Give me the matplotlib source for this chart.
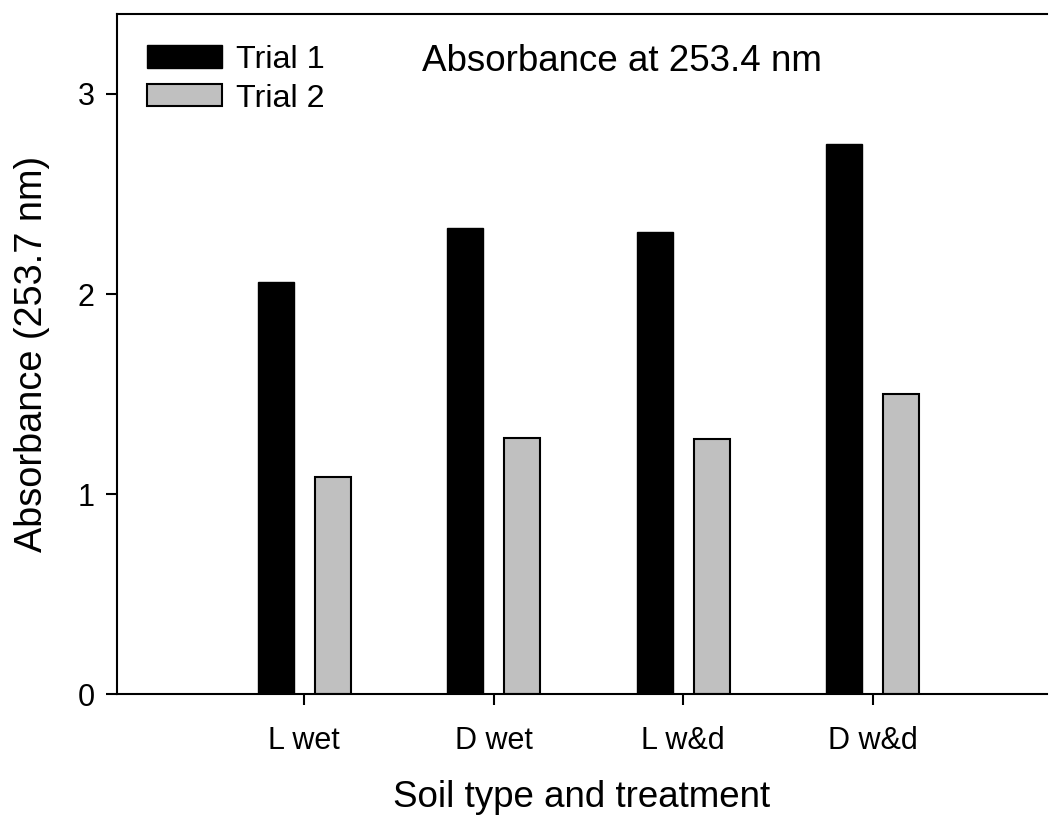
import matplotlib
matplotlib.use("Agg")
import matplotlib.pyplot as plt
import numpy as np

plt.rcParams['font.family'] = ['Liberation Sans', 'DejaVu Sans']

# Soil absorbance readings per treatment
categories = ["L wet", "D wet", "L w&d", "D w&d"]
trial1 = [2.06, 2.33, 2.31, 2.75]
trial2 = [1.085, 1.28, 1.275, 1.50]
series_names = ["Trial 1", "Trial 2"]
yticks = [0, 1, 2, 3]

fig = plt.figure(figsize=(10.5, 8.18), dpi=100)
ax = fig.add_axes([117 / 1050, 124 / 818, 930 / 1050, 680 / 818])

x = np.arange(len(categories))
width = 0.19
offset = 0.15
ax.bar(x - offset, trial1, width, color="black", edgecolor="black",
       linewidth=1.0, label=series_names[0])
ax.bar(x + offset, trial2, width, color="#c0c0c0", edgecolor="black",
       linewidth=1.5, label=series_names[1])

ax.set_xlim(-0.988, 3.92)
ax.set_ylim(0, 3.4)
ax.set_xticks(x)
ax.set_xticklabels(categories, fontsize=22)
ax.set_yticks(yticks)
ax.set_yticklabels([str(v) for v in yticks], fontsize=22)

for side in ("left", "bottom", "top"):
    ax.spines[side].set_linewidth(1.5)
ax.spines["right"].set_visible(False)
ax.tick_params(axis="both", direction="out", length=8, width=1.5,
               top=False, right=False)
ax.tick_params(axis="x", pad=15)
ax.tick_params(axis="y", pad=8)

ax.set_xlabel("Soil type and treatment", fontsize=26.5, labelpad=17)
ax.set_ylabel("Absorbance (253.7 nm)", fontsize=27.3, labelpad=20)

ax.text(0.543, 0.93, "Absorbance at 253.4 nm", transform=ax.transAxes,
        ha="center", va="center", fontsize=26.5)

ax.legend(loc="upper left", bbox_to_anchor=(0.008, 0.988), frameon=False,
          fontsize=23.3, handlelength=2.3, handleheight=0.68,
          handletextpad=0.45, labelspacing=0.27, borderaxespad=0.3)

fig.savefig("out.png", dpi=100)
